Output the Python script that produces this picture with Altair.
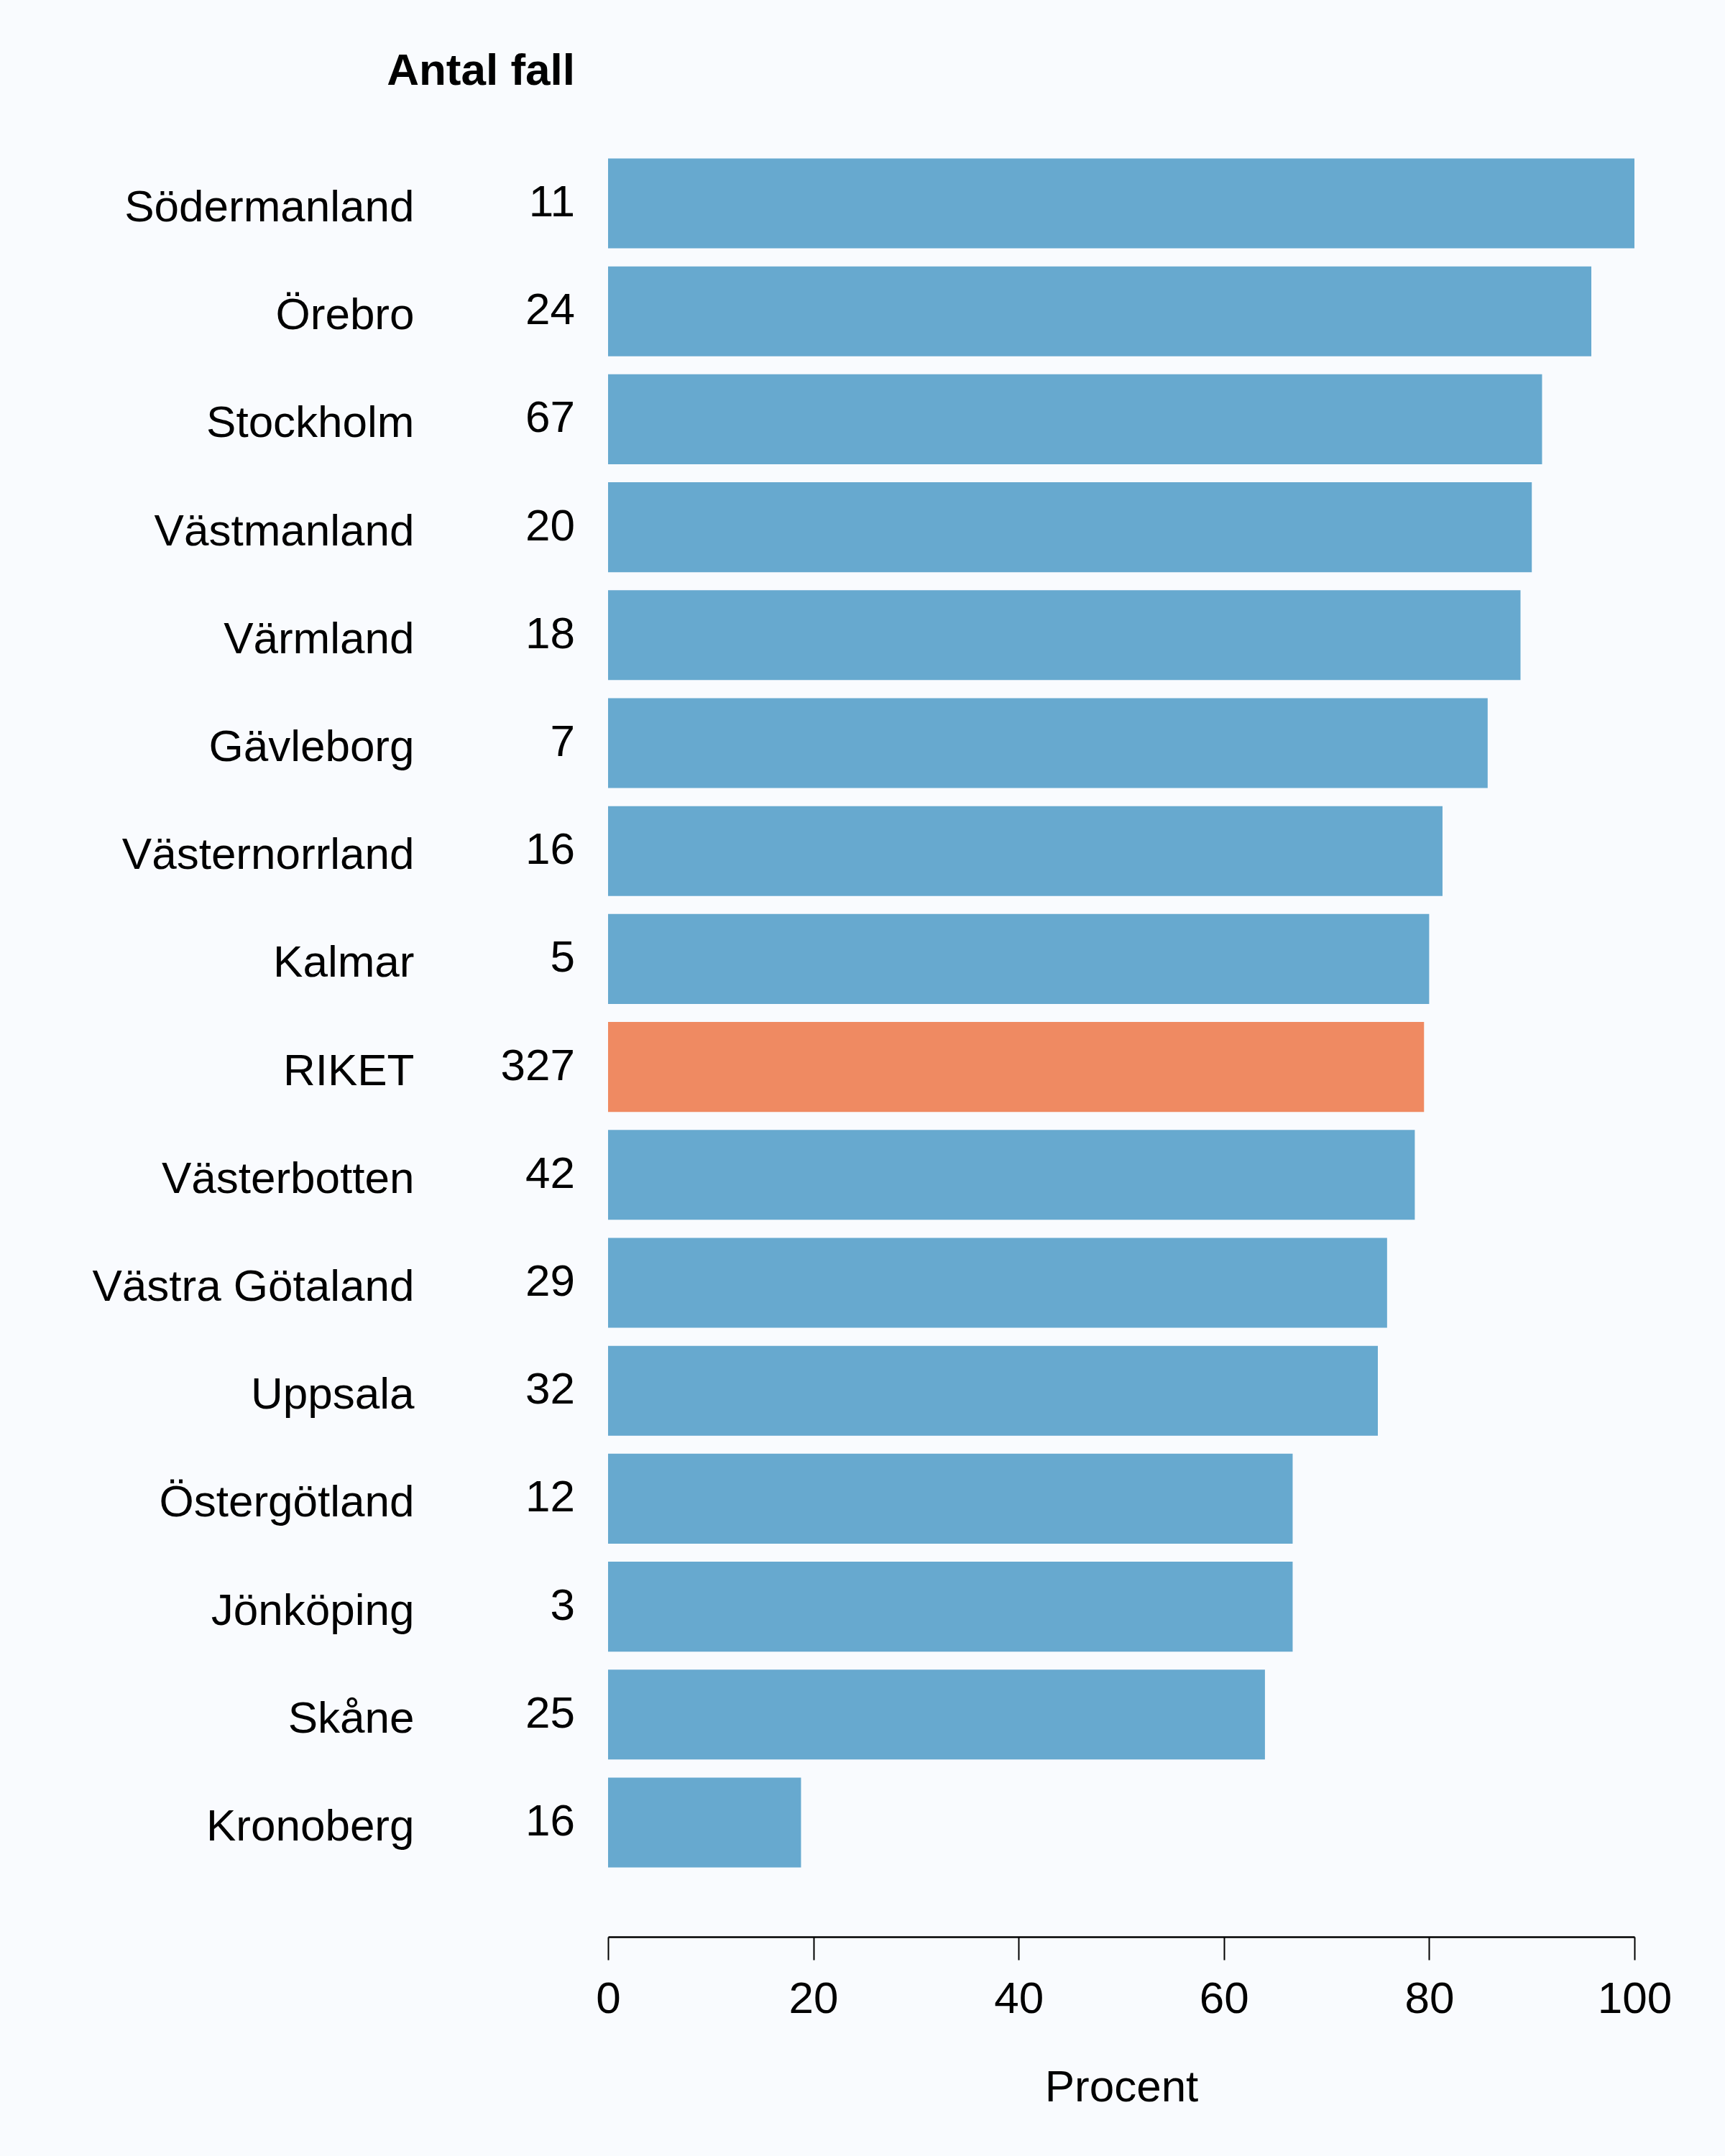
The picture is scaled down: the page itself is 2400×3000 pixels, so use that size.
import altair as alt
import pandas as pd

# Regions, number of cases and share (percent), top to bottom
regions = ["Södermanland", "Örebro", "Stockholm", "Västmanland", "Värmland",
           "Gävleborg", "Västernorrland", "Kalmar", "RIKET", "Västerbotten",
           "Västra Götaland", "Uppsala", "Östergötland", "Jönköping", "Skåne",
           "Kronoberg"]
counts = [11, 24, 67, 20, 18, 7, 16, 5, 327, 42, 29, 32, 12, 3, 25, 16]
percent = [100.0, 95.8, 91.0, 90.0, 88.9, 85.7, 81.3, 80.0, 79.5, 78.6,
           75.9, 75.0, 66.7, 66.7, 64.0, 18.8]
x_ticks = [0, 20, 40, 60, 80, 100]
header = "Antal fall"
x_title = "Procent"
highlight = "RIKET"

FONT = "Liberation Sans"
FS = 62
BLUE = "#67a9cf"
ORANGE = "#ef8a62"
BG = "#f9fbfe"

df = pd.DataFrame({"region": regions, "n": [str(c) for c in counts], "pct": percent})

y_enc = alt.Y(
    "region:N",
    sort=regions,
    scale=alt.Scale(paddingInner=0.167, paddingOuter=0.083),
    axis=alt.Axis(title=None, domain=False, ticks=False, labelFontSize=FS,
                  labelFont=FONT, labelColor="black", labelPadding=270,
                  labelOffset=6, labelLimit=1000),
)

bars = alt.Chart(df).mark_bar().encode(
    x=alt.X(
        "pct:Q",
        scale=alt.Scale(domain=[0, 100], nice=False, zero=True),
        axis=alt.Axis(title=x_title, values=x_ticks, grid=False, labelFontSize=FS,
                      labelFont=FONT, labelColor="black", titleFontSize=FS,
                      titleFont=FONT, titleFontWeight="normal", titleColor="black",
                      tickSize=32, tickWidth=2, tickColor="black", domainColor="black",
                      domainWidth=2.5, offset=84, labelPadding=24, titlePadding=62,
                      labelFlush=False, format="d"),
    ),
    y=y_enc,
    color=alt.condition(alt.datum.region == highlight, alt.value(ORANGE), alt.value(BLUE)),
)

count_text = alt.Chart(df).mark_text(
    align="right", baseline="middle", font=FONT, fontSize=FS, color="black", dy=-1
).encode(
    x=alt.value(-46),
    y=alt.Y("region:N", sort=regions),
    text="n:N",
)

header_text = alt.Chart(pd.DataFrame({"t": [header]})).mark_text(
    align="right", baseline="middle", font=FONT, fontSize=FS, fontWeight="bold",
    color="black"
).encode(
    x=alt.value(-46),
    y=alt.value(-109),
    text="t:N",
)

chart = alt.layer(bars, count_text, header_text).properties(
    width=1428,
    height=2403,
    background=BG,
    autosize=alt.AutoSizeParams(type="none"),
    padding={"left": 846, "top": 208, "right": 126, "bottom": 389},
).configure_view(stroke=None)

chart.save("out.html", embed_options={"renderer": "svg", "actions": False})
